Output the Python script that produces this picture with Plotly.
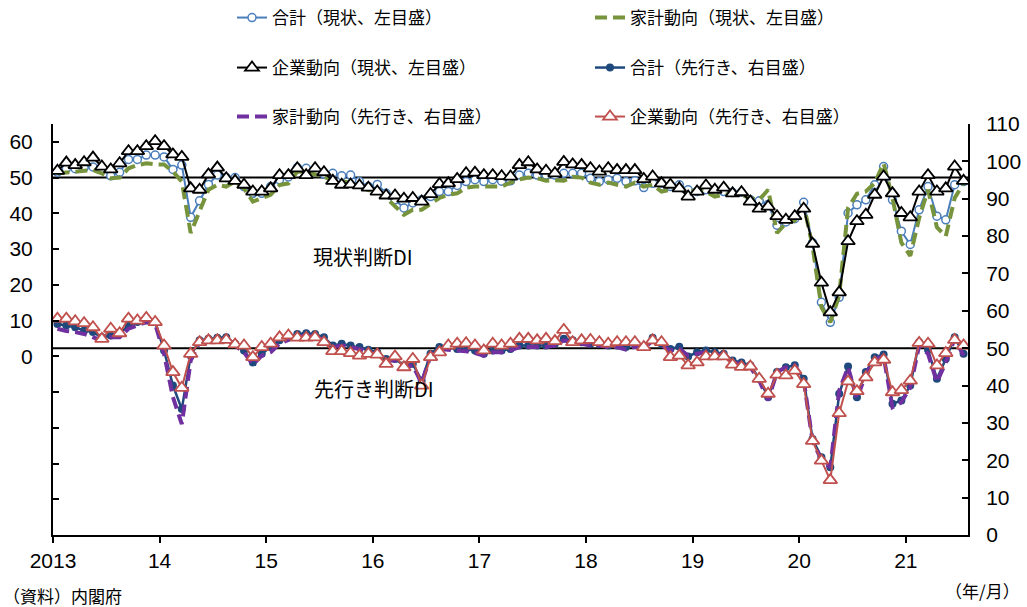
import plotly.graph_objects as go

# Month index 0 = 2013/01 ... 102 = 2021/07
year_labels = ["2013", "14", "15", "16", "17", "18", "19", "20", "21"]

# 現状判断DI (left axis)
cur_total = [51.5, 52.5, 52.5, 52.8, 53.0, 52.5, 50.5, 51.5, 55.1, 55.1,
             56.3, 56.3, 55.8, 52.3, 53.5, 38.9, 43.5, 48.1, 50.7, 50.0,
             50.0, 47.5, 45.6, 45.6, 47.5, 49.4, 50.2, 52.8, 52.6, 51.7,
             51.0, 51.2, 50.5, 50.7, 48.9, 47.5, 48.1, 45.6, 43.8, 41.5,
             42.9, 43.8, 44.7, 46.1, 46.1, 47.8, 48.9, 49.4, 48.9, 49.4,
             49.0, 49.1, 50.7, 51.2, 50.7, 50.7, 50.7, 51.2, 51.2, 51.2,
             49.8, 48.9, 49.4, 49.8, 48.9, 49.1, 47.2, 48.4, 48.4, 47.5,
             48.0, 46.6, 46.1, 46.6, 46.1, 46.1, 45.8, 45.9, 43.8, 43.5,
             42.5, 36.7, 37.6, 38.5, 43.1, 31.8, 15.1, 9.5, 16.5, 40.1,
             42.4, 43.8, 48.0, 53.1, 43.8, 35.0, 31.3, 41.0, 47.5, 39.2,
             38.2, 48.0, 48.9]
cur_household = [51.2, 51.5, 51.7, 51.9, 52.1, 51.2, 49.8, 50.0, 52.6, 53.5,
                 54.0, 53.7, 53.7, 51.7, 48.9, 34.5, 40.6, 46.6, 48.0, 47.5,
                 48.9, 47.0, 43.3, 44.3, 45.2, 47.9, 48.4, 51.7, 51.5, 50.9,
                 50.2, 49.2, 49.0, 48.5, 47.4, 46.5, 46.7, 44.5, 42.0, 39.6,
                 41.0, 41.0, 42.8, 44.3, 45.2, 45.6, 47.2, 47.5, 47.5, 47.5,
                 47.5, 48.6, 49.5, 50.0, 49.8, 49.1, 49.3, 49.1, 50.2, 50.0,
                 48.6, 48.0, 48.6, 48.0, 47.5, 48.6, 47.5, 48.0, 46.1, 46.6,
                 46.6, 46.1, 46.6, 46.1, 44.7, 45.2, 45.6, 45.2, 44.2, 43.8,
                 46.6, 34.5, 37.2, 38.0, 42.5, 30.8, 13.7, 9.5, 17.0, 41.5,
                 45.5, 46.1, 48.5, 54.0, 44.3, 31.8, 28.1, 38.7, 46.6, 36.1,
                 33.6, 44.3, 48.4]
cur_corporate = [51.9, 54.2, 53.5, 54.3, 55.6, 53.1, 52.3, 54.0, 57.4, 57.4,
                 58.8, 60.2, 58.8, 56.5, 55.8, 47.0, 46.6, 50.9, 52.8, 49.8,
                 49.1, 48.0, 46.1, 46.1, 47.0, 50.7, 50.7, 52.6, 50.7, 52.6,
                 51.5, 49.1, 48.0, 48.1, 47.8, 47.2, 46.1, 45.0, 45.0, 44.1,
                 44.3, 43.3, 45.4, 48.2, 48.4, 49.6, 51.2, 51.4, 50.7, 50.7,
                 50.4, 50.3, 53.5, 54.3, 52.3, 51.9, 51.2, 54.4, 53.7, 53.5,
                 52.6, 51.7, 52.6, 52.1, 52.1, 52.1, 49.6, 50.3, 48.4, 48.0,
                 47.0, 44.7, 46.1, 47.8, 46.6, 47.2, 45.6, 45.9, 43.3, 41.3,
                 41.9, 39.2, 38.2, 39.2, 41.3, 31.5, 20.6, 12.3, 17.9, 32.2,
                 37.8, 39.6, 45.2, 50.3, 45.6, 40.1, 38.9, 46.1, 50.7, 46.1,
                 47.0, 53.1, 49.1]

# 先行き判断DI (right axis)
fut_total = [56.5, 56.1, 55.6, 54.7, 54.3, 52.9, 53.4, 53.8, 56.1, 57.0,
             57.4, 57.0, 49.4, 40.0, 33.7, 48.0, 52.1, 52.5, 52.8, 52.9,
             51.2, 49.4, 46.2, 48.5, 50.3, 52.1, 52.9, 53.8, 54.0, 53.8,
             52.9, 50.7, 51.2, 50.7, 50.3, 49.6, 48.9, 47.1, 47.1, 45.4,
             45.8, 41.3, 48.5, 50.3, 50.3, 49.8, 49.8, 49.4, 48.5, 49.4,
             49.4, 49.8, 50.7, 50.7, 50.7, 50.7, 51.2, 52.5, 52.1, 51.6,
             51.2, 51.2, 50.7, 50.7, 50.3, 51.2, 50.3, 52.8, 51.2, 49.8,
             50.4, 47.8, 48.9, 49.4, 48.9, 48.5, 46.7, 46.2, 45.4, 41.8,
             36.9, 43.6, 44.9, 45.4, 41.8, 25.7, 20.8, 18.1, 37.8, 45.1,
             36.9, 43.6, 47.6, 48.3, 35.1, 36.0, 40.0, 51.6, 49.6, 41.8,
             47.1, 52.9, 48.5]
fut_household = [55.2, 54.6, 54.3, 53.8, 52.9, 52.2, 52.9, 52.9, 55.2, 56.1,
                 57.0, 56.5, 48.5, 36.9, 29.7, 46.7, 51.6, 52.1, 52.1, 52.2,
                 50.7, 48.9, 45.6, 48.0, 48.9, 51.2, 52.2, 53.1, 53.4, 53.1,
                 52.2, 50.3, 50.7, 50.3, 49.8, 48.9, 48.3, 46.7, 46.7, 44.9,
                 45.4, 40.6, 48.0, 49.8, 49.6, 49.4, 49.2, 48.7, 48.0, 48.9,
                 48.9, 49.4, 50.3, 50.3, 50.3, 50.3, 50.7, 52.1, 51.6, 51.2,
                 50.7, 50.7, 50.3, 50.3, 49.6, 50.4, 49.8, 52.1, 50.7, 49.4,
                 49.8, 48.0, 48.5, 48.9, 48.5, 48.0, 46.2, 45.8, 44.9, 41.3,
                 36.1, 43.6, 44.9, 45.4, 41.5, 25.2, 20.1, 18.1, 38.7, 44.9,
                 36.4, 43.1, 47.1, 47.8, 34.2, 35.5, 39.5, 50.7, 48.5, 40.9,
                 46.2, 52.5, 48.0]
fut_corporate = [57.9, 57.9, 57.2, 56.7, 55.6, 52.5, 55.2, 54.0, 57.9, 57.4,
                 58.1, 57.0, 50.7, 43.6, 39.4, 48.5, 51.6, 52.1, 52.1, 52.2,
                 51.0, 50.7, 47.6, 50.3, 51.2, 52.9, 53.4, 52.8, 52.8, 52.9,
                 51.6, 49.2, 49.2, 48.7, 48.0, 48.5, 48.3, 45.8, 47.8, 44.9,
                 47.1, 40.0, 47.6, 48.9, 50.7, 51.2, 51.3, 50.7, 49.4, 51.2,
                 50.7, 51.2, 52.5, 52.5, 52.1, 52.5, 51.9, 54.9, 51.6, 52.1,
                 52.2, 51.6, 51.2, 51.6, 51.6, 51.6, 50.3, 52.1, 51.6, 47.6,
                 48.0, 45.4, 46.2, 47.8, 47.8, 47.8, 45.6, 45.0, 45.1, 41.8,
                 37.8, 42.9, 42.7, 44.0, 40.4, 25.2, 19.9, 14.7, 32.6, 41.1,
                 38.5, 42.2, 46.2, 46.9, 38.2, 38.8, 41.3, 51.4, 51.2, 45.4,
                 48.7, 52.2, 50.7]

months = list(range(len(cur_total)))

JP = "Noto Sans CJK JP, sans-serif"
NUM = "Liberation Sans, Arial, sans-serif"

PL, PR, PT, PB = 53, 968, 124, 535
PW, PH = PR - PL, PB - PT


def px_x(px):
    return (px - PL) / PW


def px_y(py):
    return (PB - py) / PH


fig = go.Figure()

fig.add_trace(go.Scatter(
    x=months, y=cur_total, name="合計（現状、左目盛）", legend="legend",
    mode="lines+markers", line=dict(color="#4a7ebb", width=2),
    marker=dict(symbol="circle", size=8, color="white",
                line=dict(color="#4a7ebb", width=1.5)), yaxis="y"))
fig.add_trace(go.Scatter(
    x=months, y=cur_household, name="家計動向（現状、左目盛）", legend="legend",
    mode="lines", line=dict(color="#77933c", width=4, dash="12px,6px"), yaxis="y"))
fig.add_trace(go.Scatter(
    x=months, y=cur_corporate, name="企業動向（現状、左目盛）", legend="legend2",
    mode="lines+markers", line=dict(color="black", width=2),
    marker=dict(symbol="triangle-up", size=12, color="white",
                line=dict(color="black", width=1.8)), yaxis="y"))
fig.add_trace(go.Scatter(
    x=months, y=fut_total, name="合計（先行き、右目盛）", legend="legend2",
    mode="lines+markers", line=dict(color="#1f497d", width=2.5),
    marker=dict(symbol="circle", size=8, color="#1f497d"), yaxis="y2"))
fig.add_trace(go.Scatter(
    x=months, y=fut_household, name="家計動向（先行き、右目盛）", legend="legend3",
    mode="lines", line=dict(color="#7030a0", width=4, dash="12px,6px"), yaxis="y2"))
fig.add_trace(go.Scatter(
    x=months, y=fut_corporate, name="企業動向（先行き、右目盛）", legend="legend3",
    mode="lines+markers", line=dict(color="#c0504d", width=2),
    marker=dict(symbol="triangle-up", size=12, color="white",
                line=dict(color="#c0504d", width=1.8)), yaxis="y2"))

# reference lines at 50
fig.add_shape(type="line", xref="paper", x0=0, x1=1, yref="y", y0=50, y1=50,
              line=dict(color="black", width=2), layer="below")
fig.add_shape(type="line", xref="paper", x0=0, x1=1, yref="y2", y0=50, y1=50,
              line=dict(color="black", width=2), layer="below")

left_vals = list(range(-40, 61, 10))
left_text = [str(v) if v >= 0 else "" for v in left_vals]

legend_common = dict(orientation="h", font=dict(family=JP, size=17, color="black"),
                     bgcolor="rgba(0,0,0,0)", entrywidth=313, entrywidthmode="pixels",
                     xanchor="left", yanchor="middle", x=px_x(232), traceorder="normal")

fig.update_layout(
    width=1027, height=607,
    margin=dict(l=PL, r=1027 - PR, t=PT, b=607 - PB, autoexpand=False),
    paper_bgcolor="white", plot_bgcolor="white",
    showlegend=True,
    legend=dict(legend_common, y=px_y(18)),
    legend2=dict(legend_common, y=px_y(68)),
    legend3=dict(legend_common, y=px_y(117)),
    xaxis=dict(range=[-0.5, 102.5], tickvals=[-0.5 + 12 * k for k in range(len(year_labels))],
               ticktext=year_labels, ticks="outside", ticklen=6, tickwidth=1.5,
               tickcolor="black", showline=True, linecolor="black", linewidth=2,
               showgrid=False, zeroline=False,
               tickfont=dict(family=NUM, size=21, color="black")),
    yaxis=dict(range=[-50, 65], tickvals=left_vals, ticktext=left_text,
               ticks="inside", ticklen=6, tickwidth=1.5, tickcolor="black",
               showline=True, linecolor="black", linewidth=2, showgrid=False,
               zeroline=False, ticklabelstandoff=14,
               tickfont=dict(family=NUM, size=21, color="black")),
    yaxis2=dict(range=[0, 110], dtick=10, overlaying="y", side="right",
                ticks="inside", ticklen=6, tickwidth=1.5, tickcolor="black",
                showline=True, linecolor="black", linewidth=2, showgrid=False,
                zeroline=False, ticklabelstandoff=12,
                tickfont=dict(family=NUM, size=21, color="black")),
    annotations=[
        dict(text="現状判断DI", xref="paper", yref="paper", x=px_x(363), y=px_y(240),
             showarrow=False, font=dict(family=JP, size=20, color="black")),
        dict(text="先行き判断DI", xref="paper", yref="paper", x=px_x(374), y=px_y(405),
             showarrow=False, font=dict(family=JP, size=20, color="black")),
        dict(text="（資料）内閣府", xref="paper", yref="paper", x=px_x(1),
             xanchor="left", y=px_y(595), yanchor="middle", showarrow=False,
             font=dict(family=JP, size=17, color="black")),
        dict(text="（年/月）", xref="paper", yref="paper", x=px_x(1022),
             xanchor="right", y=px_y(590), yanchor="middle", showarrow=False,
             font=dict(family=JP, size=17, color="black")),
    ],
)

fig.write_html("out.html", config={"displayModeBar": False},
               post_script="document.body.style.margin='0';")
